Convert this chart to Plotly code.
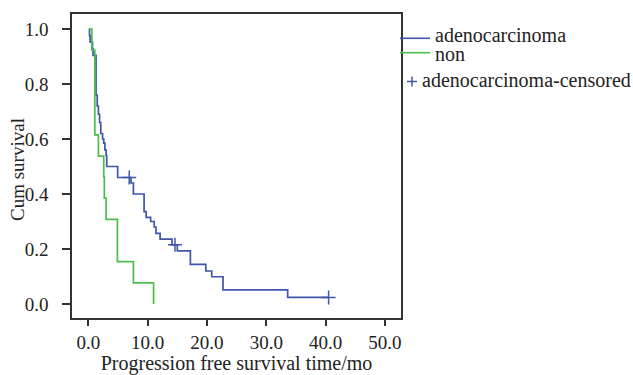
import plotly.graph_objects as go

# Kaplan-Meier step data
adeno_time = [0.1, 0.2, 0.3, 0.7, 0.8, 1.3, 1.5, 1.7, 1.9, 2.1, 2.4, 2.6, 2.8, 3.0, 3.1,
              4.95, 7.2, 7.6, 9.4, 9.75, 10.5, 11.1, 11.4, 12.1, 14.1, 15.0, 17.2,
              19.8, 20.8, 22.7, 33.6, 40.5]
adeno_surv = [1.0, 0.976, 0.952, 0.928, 0.904, 0.76, 0.72, 0.69, 0.66, 0.62, 0.60, 0.585,
              0.56, 0.54, 0.50, 0.46, 0.44, 0.40, 0.336, 0.315, 0.30, 0.28, 0.257, 0.236,
              0.215, 0.193, 0.144, 0.12, 0.099, 0.051, 0.024, 0.024]

non_time = [0.1, 0.6, 1.1, 1.7, 2.6, 2.7, 3.0, 4.9, 7.6, 11.0]
non_surv = [1.0, 0.923, 0.615, 0.538, 0.462, 0.385, 0.308, 0.154, 0.077, 0.0]

censor_time = [6.9, 14.6, 40.5]
censor_surv = [0.46, 0.215, 0.024]

x_ticks = [0, 10, 20, 30, 40, 50]
y_ticks = [0.0, 0.2, 0.4, 0.6, 0.8, 1.0]

legend_labels = ["adenocarcinoma", "non", "adenocarcinoma-censored"]
x_title = "Progression free survival time/mo"
y_title = "Cum survival"

BLUE = "#3F56A9"
GREEN = "#4DBE4D"
FONT = "Liberation Serif, serif"
TXT = "#222"

fig = go.Figure()
fig.add_trace(go.Scatter(x=adeno_time, y=adeno_surv, mode="lines", name=legend_labels[0],
                         line=dict(color=BLUE, width=1.7, shape="hv")))
fig.add_trace(go.Scatter(x=non_time, y=non_surv, mode="lines", name=legend_labels[1],
                         line=dict(color=GREEN, width=1.7, shape="hv")))
fig.add_trace(go.Scatter(x=censor_time, y=censor_surv, mode="markers",
                         name=legend_labels[2],
                         marker=dict(symbol="cross-thin", size=10,
                                     line=dict(color=BLUE, width=1.5))))

# Hand-placed legend (paper coordinates, to the right of the frame)
leg_font = dict(family=FONT, size=20, color=TXT)
annotations = [
    dict(text=legend_labels[0], x=1.1003, y=0.9309),
    dict(text=legend_labels[1], x=1.1003, y=0.8684),
    dict(text=legend_labels[2], x=1.0608, y=0.7829),
]
annotations = [dict(a, xref="paper", yref="paper", xanchor="left", yanchor="middle",
                    showarrow=False, font=leg_font, borderpad=0) for a in annotations]
annotations.append(dict(text=y_title, xref="paper", yref="paper", x=-0.164, y=0.487,
                        xanchor="center", yanchor="middle", textangle=-90, showarrow=False,
                        font=dict(family=FONT, size=19, color=TXT)))
shapes = [
    dict(type="line", xref="paper", yref="paper", x0=0.997, x1=1.0881, y0=0.9201, y1=0.9201,
         line=dict(color=BLUE, width=1.6)),
    dict(type="line", xref="paper", yref="paper", x0=0.997, x1=1.0881, y0=0.8727, y1=0.8727,
         line=dict(color=GREEN, width=1.6)),
    dict(type="line", xref="paper", yref="paper", x0=1.0182, x1=1.0486, y0=0.7780, y1=0.7780,
         line=dict(color=BLUE, width=1.5)),
    dict(type="line", xref="paper", yref="paper", x0=1.0334, x1=1.0334, y0=0.7616, y1=0.7944,
         line=dict(color=BLUE, width=1.5)),
]

fig.update_layout(
    width=633, height=375,
    margin=dict(l=72, r=232, t=14, b=57, autoexpand=False),
    plot_bgcolor="white", paper_bgcolor="white",
    font=dict(family=FONT, size=19, color=TXT),
    showlegend=False,
    annotations=annotations,
    shapes=shapes,
)
fig.update_xaxes(range=[-2.75, 52.7], tickvals=x_ticks, tickformat=".1f",
                 tickfont=dict(family=FONT, size=19, color=TXT),
                 showgrid=False, zeroline=False, showline=True, mirror=True,
                 linecolor="#333", linewidth=1.5, ticks="outside", ticklen=6,
                 tickcolor="#333", tickwidth=1.5, automargin=False,
                 ticklabelstandoff=0,
                 title=dict(text=x_title, standoff=0,
                            font=dict(family=FONT, size=20, color=TXT)))
fig.update_yaxes(range=[-0.051, 1.0545], tickvals=y_ticks, tickformat=".1f",
                 tickfont=dict(family=FONT, size=19, color=TXT),
                 showgrid=False, zeroline=False, showline=True, mirror=True,
                 linecolor="#333", linewidth=1.5, ticks="outside", ticklen=8,
                 tickcolor="#333", tickwidth=1.5, automargin=False,
                 ticklabelstandoff=10)

fig.write_html("out.html", config={"displayModeBar": False},
               post_script="document.body.style.margin='0';")
